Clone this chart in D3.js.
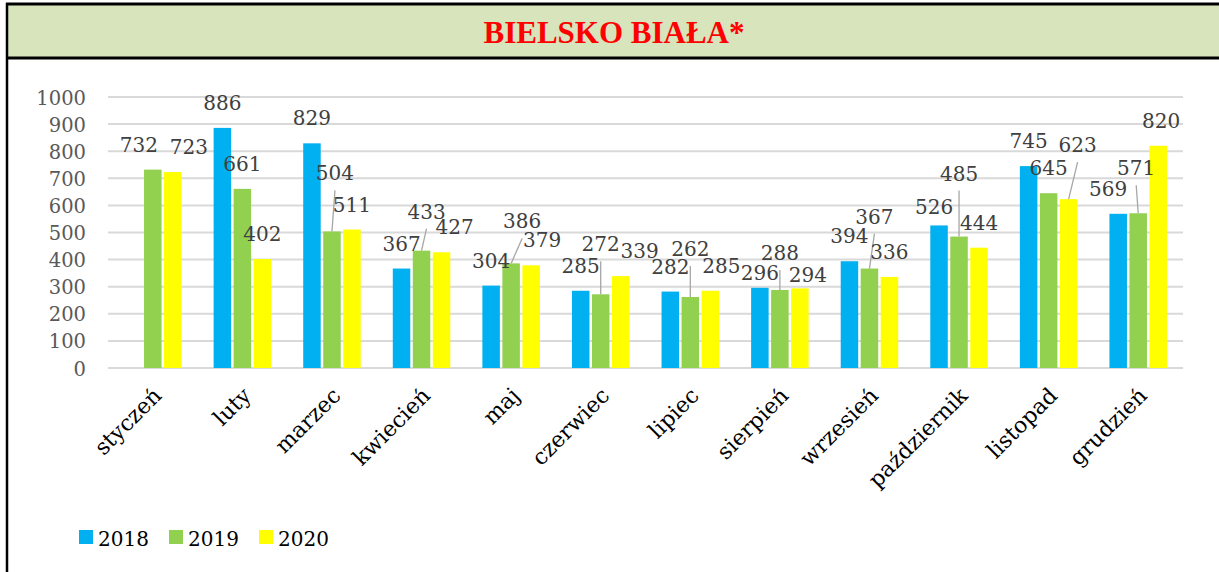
<!DOCTYPE html>
<html>
<meta charset="utf-8">
<head>
  <script src='https://d3js.org/d3.v7.min.js'></script>
  <style>
    body { margin:0; background:#fff; }
  </style>
</head>
<body>
<script>
    // data
    var months = ['styczeń','luty','marzec','kwiecień','maj','czerwiec','lipiec','sierpień','wrzesień','październik','listopad','grudzień'] ;
    var years = ['2018','2019','2020'] ;
    var v2018 = [null,886,829,367,304,285,282,296,394,526,745,569] ;
    var v2019 = [732,661,504,433,386,272,262,288,367,485,645,571] ;
    var v2020 = [723,402,511,427,379,339,285,294,336,444,623,820] ;
    var yTicks = [0,100,200,300,400,500,600,700,800,900,1000] ;

    // label nudges (layout only), one per bar, and which ones get a leader line
    var shiftX = [
	[0,0,0,0,0,0,0,0,0,-5,0,-10],
	[-14,0,3,5,11,0,0,0,5,0,0,-2],
	[16,0,0,13,11,19,11,8,0,0,9,3]
    ] ;
    var shiftY = [
	[0,0,0,0,0,0,0,10,0,7,0,0],
	[0,0,-33,-14,-17,-25,-23,-12,-27,-38,0,-20],
	[0,0,0,0,0,0,0,12,0,0,-29,0]
    ] ;
    var leader = [
	[0,0,0,0,0,0,0,0,0,0,0,0],
	[0,0,1,1,1,1,1,1,1,1,0,1],
	[0,0,0,0,0,0,0,0,0,0,1,0]
    ] ;

    const colors = ['#00b0f0','#92d050','#ffff00'] ;
    const W = 1219, H = 572 ;
    const numFont = "'DejaVu Serif', serif" ;

    var svg = d3.select('body').append('svg').attr('width',W).attr('height',H) ;

    // frame and title band
    svg.append('rect').attr('x',7).attr('y',4).attr('width',W).attr('height',54)
	.attr('fill','#d8e4bc') ;
    svg.append('line').attr('x1',6).attr('x2',W).attr('y1',4).attr('y2',4)
	.attr('stroke','#000').attr('stroke-width',3) ;
    svg.append('line').attr('x1',6).attr('x2',W).attr('y1',58).attr('y2',58)
	.attr('stroke','#000').attr('stroke-width',3) ;
    svg.append('line').attr('x1',7).attr('x2',7).attr('y1',3).attr('y2',H)
	.attr('stroke','#000').attr('stroke-width',2.5) ;
    svg.append('text').attr('x',614).attr('y',43).attr('text-anchor','middle')
	.style('font-family',"'Liberation Serif', serif").style('font-weight','bold')
	.style('font-size','31px').attr('fill','#ff0000')
	.text('BIELSKO BIAŁA*') ;

    // scales
    var x = d3.scaleBand().domain(months).range([108,1183]).paddingInner(0).paddingOuter(0) ;
    var xs = d3.scaleBand().domain(years).range([-28.75,28.75]).paddingInner(0.125).paddingOuter(0) ;
    var y = d3.scaleLinear().domain([0,1000]).range([368,97]) ;

    // gridlines
    svg.append('g').selectAll('line').data(yTicks).join('line')
	.attr('x1',108).attr('x2',1183)
	.attr('y1',d=>y(d)).attr('y2',d=>y(d))
	.attr('stroke','#d9d9d9').attr('stroke-width',2) ;

    // y axis labels
    var yAxis = d3.axisLeft(y).tickValues(yTicks).tickFormat(d3.format('d')).tickSize(0).tickPadding(0) ;
    var ga = svg.append('g').attr('transform','translate(86,0)').call(yAxis) ;
    ga.select('.domain').remove() ;
    ga.selectAll('text').attr('fill','#595959').style('font-family',numFont)
	.style('font-size','19.5px').attr('dy','0.36em') ;

    // x axis category labels
    svg.append('g').selectAll('text').data(months).join('text')
	.attr('text-anchor','end')
	.attr('transform',d=>`translate(${x(d)+x.bandwidth()/2+10},397) rotate(-45)`)
	.style('font-family',numFont).style('font-size','22px').attr('fill','#000')
	.text(d=>d) ;

    // bars
    var series = [v2018,v2019,v2020] ;
    var rows = [] ;
    series.forEach(function(vals,s) {
	vals.forEach(function(v,i) {
	    if (v==null) return ;
	    rows.push({s:s, i:i, v:v, cx:x(months[i])+x.bandwidth()/2+xs(years[s])+xs.bandwidth()/2}) ;
	}) ;
    }) ;

    svg.append('g').selectAll('rect').data(rows).join('rect')
	.attr('x',d=>d.cx-xs.bandwidth()/2)
	.attr('y',d=>y(d.v))
	.attr('width',xs.bandwidth())
	.attr('height',d=>y(0)-y(d.v))
	.attr('fill',d=>colors[d.s]) ;

    // leader lines
    svg.append('g').selectAll('line').data(rows.filter(d=>leader[d.s][d.i])).join('line')
	.attr('x1',d=>d.cx+shiftX[d.s][d.i])
	.attr('y1',d=>y(d.v)-25+shiftY[d.s][d.i]+17)
	.attr('x2',d=>d.cx).attr('y2',d=>y(d.v))
	.attr('stroke','#a6a6a6').attr('stroke-width',1.3) ;

    // value labels
    svg.append('g').selectAll('text').data(rows).join('text')
	.attr('x',d=>d.cx+shiftX[d.s][d.i])
	.attr('y',d=>y(d.v)-25+shiftY[d.s][d.i]+7)
	.attr('text-anchor','middle')
	.style('font-family',numFont).style('font-size','20px').attr('fill','#404040')
	.text(d=>d.v) ;

    // legend
    var lx = [79,169,259] ;
    var lg = svg.append('g').selectAll('g').data(years).join('g')
	.attr('transform',(d,i)=>`translate(${lx[i]},530)`) ;
    lg.append('rect').attr('width',14).attr('height',14).attr('fill',(d,i)=>colors[i]) ;
    lg.append('text').attr('x',19).attr('y',16)
	.style('font-family',numFont).style('font-size','20px').attr('fill','#000')
	.text(d=>d) ;
</script>
</body>
</html>
